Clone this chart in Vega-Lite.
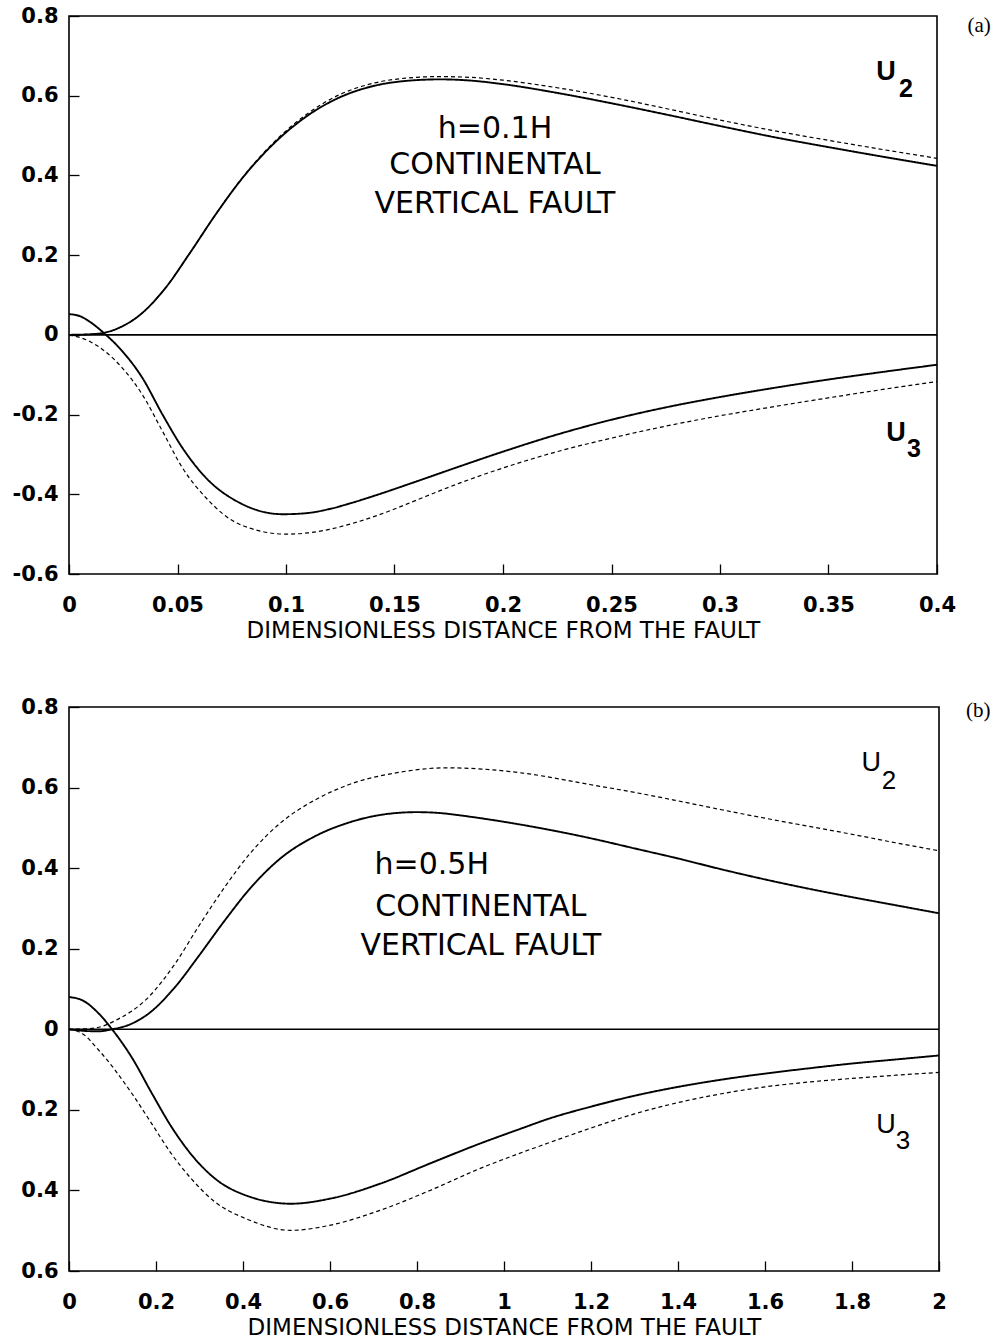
{
  "$schema": "https://vega.github.io/schema/vega-lite/v6.json",
  "background": "white",
  "padding": {"left": 11, "top": 4, "right": 5, "bottom": 0},
  "columns": 1,
  "align": "none",
  "spacing": 52,
  "config": {
    "font": "DejaVu Sans",
    "view": {"stroke": "black", "strokeWidth": 1.6},
    "axis": {
      "domain": false, "grid": false, "tickColor": "black", "tickSize": -10, "tickWidth": 1.3,
      "labelFont": "DejaVu Sans", "labelFontWeight": "bold", "labelFontSize": 21, "labelColor": "black",
      "labelFlush": false, "labelOverlap": false,
      "titleFont": "DejaVu Sans", "titleFontWeight": "normal", "titleFontSize": 23, "titleColor": "black"
    },
    "axisY": {"labelPadding": 21},
    "axisX": {"labelPadding": 30, "titlePadding": 4}
  },
  "datasets": {
    "curvesA": [
      {"s":"U2s","k":"solid","x":0,"y":0},{"s":"U2s","k":"solid","x":0.008,"y":0.001},{"s":"U2s","k":"solid","x":0.016,"y":0.005},{"s":"U2s","k":"solid","x":0.024,"y":0.02},{"s":"U2s","k":"solid","x":0.032,"y":0.047},{"s":"U2s","k":"solid","x":0.0445,"y":0.118},{"s":"U2s","k":"solid","x":0.0553,"y":0.202},{"s":"U2s","k":"solid","x":0.0677,"y":0.303},{"s":"U2s","k":"solid","x":0.08,"y":0.394},{"s":"U2s","k":"solid","x":0.094,"y":0.478},{"s":"U2s","k":"solid","x":0.1094,"y":0.548},{"s":"U2s","k":"solid","x":0.1248,"y":0.596},{"s":"U2s","k":"solid","x":0.14,"y":0.624},{"s":"U2s","k":"solid","x":0.155,"y":0.637},{"s":"U2s","k":"solid","x":0.171,"y":0.641},{"s":"U2s","k":"solid","x":0.185,"y":0.638},{"s":"U2s","k":"solid","x":0.2,"y":0.629},{"s":"U2s","k":"solid","x":0.225,"y":0.607},{"s":"U2s","k":"solid","x":0.25,"y":0.581},{"s":"U2s","k":"solid","x":0.275,"y":0.553},{"s":"U2s","k":"solid","x":0.3,"y":0.524},{"s":"U2s","k":"solid","x":0.325,"y":0.496},{"s":"U2s","k":"solid","x":0.35,"y":0.471},{"s":"U2s","k":"solid","x":0.375,"y":0.447},{"s":"U2s","k":"solid","x":0.4,"y":0.424},
      {"s":"U2d","k":"dashed","x":0,"y":0},{"s":"U2d","k":"dashed","x":0.008,"y":0.001},{"s":"U2d","k":"dashed","x":0.016,"y":0.005},{"s":"U2d","k":"dashed","x":0.024,"y":0.02},{"s":"U2d","k":"dashed","x":0.032,"y":0.047},{"s":"U2d","k":"dashed","x":0.0445,"y":0.118},{"s":"U2d","k":"dashed","x":0.0553,"y":0.202},{"s":"U2d","k":"dashed","x":0.0677,"y":0.303},{"s":"U2d","k":"dashed","x":0.08,"y":0.395},{"s":"U2d","k":"dashed","x":0.094,"y":0.481},{"s":"U2d","k":"dashed","x":0.1094,"y":0.553},{"s":"U2d","k":"dashed","x":0.1248,"y":0.603},{"s":"U2d","k":"dashed","x":0.14,"y":0.631},{"s":"U2d","k":"dashed","x":0.155,"y":0.644},{"s":"U2d","k":"dashed","x":0.171,"y":0.648},{"s":"U2d","k":"dashed","x":0.185,"y":0.646},{"s":"U2d","k":"dashed","x":0.2,"y":0.639},{"s":"U2d","k":"dashed","x":0.225,"y":0.620},{"s":"U2d","k":"dashed","x":0.25,"y":0.596},{"s":"U2d","k":"dashed","x":0.275,"y":0.568},{"s":"U2d","k":"dashed","x":0.3,"y":0.539},{"s":"U2d","k":"dashed","x":0.325,"y":0.512},{"s":"U2d","k":"dashed","x":0.35,"y":0.488},{"s":"U2d","k":"dashed","x":0.375,"y":0.465},{"s":"U2d","k":"dashed","x":0.4,"y":0.443},
      {"s":"U3s","k":"solid","x":0,"y":0.052},{"s":"U3s","k":"solid","x":0.005,"y":0.047},{"s":"U3s","k":"solid","x":0.009,"y":0.035},{"s":"U3s","k":"solid","x":0.016,"y":0.005},{"s":"U3s","k":"solid","x":0.0244,"y":-0.04},{"s":"U3s","k":"solid","x":0.0337,"y":-0.107},{"s":"U3s","k":"solid","x":0.043,"y":-0.199},{"s":"U3s","k":"solid","x":0.0522,"y":-0.283},{"s":"U3s","k":"solid","x":0.063,"y":-0.358},{"s":"U3s","k":"solid","x":0.0785,"y":-0.421},{"s":"U3s","k":"solid","x":0.0986,"y":-0.45},{"s":"U3s","k":"solid","x":0.11,"y":-0.447},{"s":"U3s","k":"solid","x":0.12,"y":-0.437},{"s":"U3s","k":"solid","x":0.13,"y":-0.422},{"s":"U3s","k":"solid","x":0.14,"y":-0.405},{"s":"U3s","k":"solid","x":0.16,"y":-0.368},{"s":"U3s","k":"solid","x":0.18,"y":-0.330},{"s":"U3s","k":"solid","x":0.2,"y":-0.293},{"s":"U3s","k":"solid","x":0.225,"y":-0.250},{"s":"U3s","k":"solid","x":0.25,"y":-0.213},{"s":"U3s","k":"solid","x":0.275,"y":-0.182},{"s":"U3s","k":"solid","x":0.3,"y":-0.156},{"s":"U3s","k":"solid","x":0.325,"y":-0.133},{"s":"U3s","k":"solid","x":0.35,"y":-0.112},{"s":"U3s","k":"solid","x":0.375,"y":-0.093},{"s":"U3s","k":"solid","x":0.4,"y":-0.075},
      {"s":"U3d","k":"dashed","x":0,"y":0},{"s":"U3d","k":"dashed","x":0.009,"y":-0.015},{"s":"U3d","k":"dashed","x":0.0244,"y":-0.082},{"s":"U3d","k":"dashed","x":0.0337,"y":-0.149},{"s":"U3d","k":"dashed","x":0.043,"y":-0.241},{"s":"U3d","k":"dashed","x":0.0522,"y":-0.333},{"s":"U3d","k":"dashed","x":0.063,"y":-0.408},{"s":"U3d","k":"dashed","x":0.0785,"y":-0.475},{"s":"U3d","k":"dashed","x":0.1001,"y":-0.5},{"s":"U3d","k":"dashed","x":0.11,"y":-0.497},{"s":"U3d","k":"dashed","x":0.12,"y":-0.488},{"s":"U3d","k":"dashed","x":0.13,"y":-0.474},{"s":"U3d","k":"dashed","x":0.14,"y":-0.457},{"s":"U3d","k":"dashed","x":0.15,"y":-0.437},{"s":"U3d","k":"dashed","x":0.16,"y":-0.415},{"s":"U3d","k":"dashed","x":0.18,"y":-0.372},{"s":"U3d","k":"dashed","x":0.2,"y":-0.334},{"s":"U3d","k":"dashed","x":0.225,"y":-0.293},{"s":"U3d","k":"dashed","x":0.25,"y":-0.259},{"s":"U3d","k":"dashed","x":0.275,"y":-0.229},{"s":"U3d","k":"dashed","x":0.3,"y":-0.203},{"s":"U3d","k":"dashed","x":0.325,"y":-0.18},{"s":"U3d","k":"dashed","x":0.35,"y":-0.158},{"s":"U3d","k":"dashed","x":0.375,"y":-0.137},{"s":"U3d","k":"dashed","x":0.4,"y":-0.117}
    ],
    "curvesB": [
      {"s":"U2s","k":"solid","x":0,"y":0},{"s":"U2s","k":"solid","x":0.035,"y":-0.004},{"s":"U2s","k":"solid","x":0.0685,"y":-0.005},{"s":"U2s","k":"solid","x":0.099,"y":0},{"s":"U2s","k":"solid","x":0.14,"y":0.012},{"s":"U2s","k":"solid","x":0.183,"y":0.039},{"s":"U2s","k":"solid","x":0.244,"y":0.105},{"s":"U2s","k":"solid","x":0.297,"y":0.18},{"s":"U2s","k":"solid","x":0.358,"y":0.27},{"s":"U2s","k":"solid","x":0.419,"y":0.353},{"s":"U2s","k":"solid","x":0.487,"y":0.425},{"s":"U2s","k":"solid","x":0.5635,"y":0.478},{"s":"U2s","k":"solid","x":0.64,"y":0.512},{"s":"U2s","k":"solid","x":0.70,"y":0.529},{"s":"U2s","k":"solid","x":0.754,"y":0.537},{"s":"U2s","k":"solid","x":0.80,"y":0.539},{"s":"U2s","k":"solid","x":0.85,"y":0.537},{"s":"U2s","k":"solid","x":0.906,"y":0.530},{"s":"U2s","k":"solid","x":1.0,"y":0.515},{"s":"U2s","k":"solid","x":1.1,"y":0.496},{"s":"U2s","k":"solid","x":1.2,"y":0.474},{"s":"U2s","k":"solid","x":1.3,"y":0.449},{"s":"U2s","k":"solid","x":1.4,"y":0.424},{"s":"U2s","k":"solid","x":1.5,"y":0.397},{"s":"U2s","k":"solid","x":1.6,"y":0.372},{"s":"U2s","k":"solid","x":1.7,"y":0.349},{"s":"U2s","k":"solid","x":1.8,"y":0.328},{"s":"U2s","k":"solid","x":1.9,"y":0.308},{"s":"U2s","k":"solid","x":2.0,"y":0.288},
      {"s":"U2d","k":"dashed","x":0,"y":0},{"s":"U2d","k":"dashed","x":0.035,"y":0.001},{"s":"U2d","k":"dashed","x":0.0685,"y":0.005},{"s":"U2d","k":"dashed","x":0.107,"y":0.022},{"s":"U2d","k":"dashed","x":0.183,"y":0.08},{"s":"U2d","k":"dashed","x":0.244,"y":0.163},{"s":"U2d","k":"dashed","x":0.297,"y":0.254},{"s":"U2d","k":"dashed","x":0.358,"y":0.353},{"s":"U2d","k":"dashed","x":0.419,"y":0.440},{"s":"U2d","k":"dashed","x":0.487,"y":0.513},{"s":"U2d","k":"dashed","x":0.5635,"y":0.568},{"s":"U2d","k":"dashed","x":0.64,"y":0.606},{"s":"U2d","k":"dashed","x":0.754,"y":0.637},{"s":"U2d","k":"dashed","x":0.868,"y":0.649},{"s":"U2d","k":"dashed","x":0.95,"y":0.646},{"s":"U2d","k":"dashed","x":1.043,"y":0.636},{"s":"U2d","k":"dashed","x":1.2,"y":0.607},{"s":"U2d","k":"dashed","x":1.3,"y":0.588},{"s":"U2d","k":"dashed","x":1.4,"y":0.567},{"s":"U2d","k":"dashed","x":1.5,"y":0.545},{"s":"U2d","k":"dashed","x":1.6,"y":0.524},{"s":"U2d","k":"dashed","x":1.7,"y":0.504},{"s":"U2d","k":"dashed","x":1.8,"y":0.484},{"s":"U2d","k":"dashed","x":1.9,"y":0.463},{"s":"U2d","k":"dashed","x":2.0,"y":0.443},
      {"s":"U3s","k":"solid","x":0,"y":0.08},{"s":"U3s","k":"solid","x":0.0306,"y":0.072},{"s":"U3s","k":"solid","x":0.0685,"y":0.039},{"s":"U3s","k":"solid","x":0.099,"y":0},{"s":"U3s","k":"solid","x":0.145,"y":-0.071},{"s":"U3s","k":"solid","x":0.19,"y":-0.158},{"s":"U3s","k":"solid","x":0.236,"y":-0.243},{"s":"U3s","k":"solid","x":0.282,"y":-0.312},{"s":"U3s","k":"solid","x":0.335,"y":-0.370},{"s":"U3s","k":"solid","x":0.411,"y":-0.414},{"s":"U3s","k":"solid","x":0.51,"y":-0.433},{"s":"U3s","k":"solid","x":0.602,"y":-0.42},{"s":"U3s","k":"solid","x":0.716,"y":-0.383},{"s":"U3s","k":"solid","x":0.83,"y":-0.333},{"s":"U3s","k":"solid","x":0.944,"y":-0.284},{"s":"U3s","k":"solid","x":1.043,"y":-0.245},{"s":"U3s","k":"solid","x":1.1,"y":-0.223},{"s":"U3s","k":"solid","x":1.2,"y":-0.192},{"s":"U3s","k":"solid","x":1.3,"y":-0.165},{"s":"U3s","k":"solid","x":1.4,"y":-0.143},{"s":"U3s","k":"solid","x":1.5,"y":-0.125},{"s":"U3s","k":"solid","x":1.6,"y":-0.110},{"s":"U3s","k":"solid","x":1.7,"y":-0.097},{"s":"U3s","k":"solid","x":1.8,"y":-0.085},{"s":"U3s","k":"solid","x":1.9,"y":-0.075},{"s":"U3s","k":"solid","x":2.0,"y":-0.065},
      {"s":"U3d","k":"dashed","x":0,"y":0},{"s":"U3d","k":"dashed","x":0.031,"y":-0.011},{"s":"U3d","k":"dashed","x":0.0685,"y":-0.052},{"s":"U3d","k":"dashed","x":0.145,"y":-0.16},{"s":"U3d","k":"dashed","x":0.19,"y":-0.234},{"s":"U3d","k":"dashed","x":0.236,"y":-0.31},{"s":"U3d","k":"dashed","x":0.282,"y":-0.372},{"s":"U3d","k":"dashed","x":0.335,"y":-0.428},{"s":"U3d","k":"dashed","x":0.411,"y":-0.472},{"s":"U3d","k":"dashed","x":0.51,"y":-0.499},{"s":"U3d","k":"dashed","x":0.602,"y":-0.486},{"s":"U3d","k":"dashed","x":0.716,"y":-0.449},{"s":"U3d","k":"dashed","x":0.83,"y":-0.4},{"s":"U3d","k":"dashed","x":0.944,"y":-0.346},{"s":"U3d","k":"dashed","x":1.043,"y":-0.305},{"s":"U3d","k":"dashed","x":1.1,"y":-0.283},{"s":"U3d","k":"dashed","x":1.2,"y":-0.245},{"s":"U3d","k":"dashed","x":1.3,"y":-0.210},{"s":"U3d","k":"dashed","x":1.4,"y":-0.182},{"s":"U3d","k":"dashed","x":1.5,"y":-0.160},{"s":"U3d","k":"dashed","x":1.6,"y":-0.143},{"s":"U3d","k":"dashed","x":1.7,"y":-0.131},{"s":"U3d","k":"dashed","x":1.8,"y":-0.122},{"s":"U3d","k":"dashed","x":1.9,"y":-0.114},{"s":"U3d","k":"dashed","x":2.0,"y":-0.107}
    ]
  },
  "concat": [
    {
      "width": 868,
      "height": 558,
      "encoding": {
        "x": {"field": "x", "type": "quantitative", "scale": {"domain": [0, 0.4], "nice": false, "zero": false},
              "axis": {"values": [0, 0.05, 0.1, 0.15, 0.2, 0.25, 0.3, 0.35, 0.4], "format": "~g", "title": "DIMENSIONLESS DISTANCE FROM THE FAULT"}},
        "y": {"field": "y", "type": "quantitative", "scale": {"domain": [-0.6, 0.8], "nice": false, "zero": false},
              "axis": {"values": [-0.6, -0.4, -0.2, 0, 0.2, 0.4, 0.6, 0.8], "labelExpr": "replace(format(datum.value, '~g'), '\u2212', '-')", "title": null}}
      },
      "layer": [
        {"data": {"values": [{"x": 0, "y": 0}, {"x": 0.4, "y": 0}]}, "mark": {"type": "line", "color": "black", "strokeWidth": 1.6}},
        {"data": {"name": "curvesA"},
         "mark": {"type": "line", "color": "black", "interpolate": "monotone"},
         "encoding": {
           "detail": {"field": "s"},
           "strokeDash": {"field": "k", "type": "nominal", "scale": {"domain": ["solid", "dashed"], "range": [[1, 0], [4, 3]]}, "legend": null},
           "strokeWidth": {"field": "k", "type": "nominal", "scale": {"domain": ["solid", "dashed"], "range": [1.9, 1.2]}, "legend": null}
         }},
        {"data": {"values": [{"x": 0.1963, "y": 0.517, "t": "h=0.1H"}, {"x": 0.1963, "y": 0.426, "t": "CONTINENTAL"}, {"x": 0.1963, "y": 0.328, "t": "VERTICAL FAULT"}]},
         "mark": {"type": "text", "font": "DejaVu Sans", "fontSize": 30, "color": "black", "align": "center", "baseline": "middle"},
         "encoding": {"text": {"field": "t"}}},
        {"data": {"values": [{"x": 0.3765, "y": 0.659, "t": "U"}, {"x": 0.3811, "y": -0.246, "t": "U"}]},
         "mark": {"type": "text", "font": "Liberation Sans", "fontWeight": "bold", "fontSize": 27, "color": "black", "align": "center", "baseline": "middle"},
         "encoding": {"text": {"field": "t"}}},
        {"data": {"values": [{"x": 0.3857, "y": 0.617, "t": "2"}, {"x": 0.3894, "y": -0.286, "t": "3"}]},
         "mark": {"type": "text", "font": "Liberation Sans", "fontWeight": "bold", "fontSize": 25, "color": "black", "align": "center", "baseline": "middle"},
         "encoding": {"text": {"field": "t"}}},
        {"data": {"values": [{"x": 0.4194, "y": 0.775, "t": "(a)"}]},
         "mark": {"type": "text", "font": "Liberation Serif", "fontSize": 21, "color": "black", "align": "center", "baseline": "middle"},
         "encoding": {"text": {"field": "t"}}}
      ]
    },
    {
      "width": 870,
      "height": 564,
      "encoding": {
        "x": {"field": "x", "type": "quantitative", "scale": {"domain": [0, 2], "nice": false, "zero": false},
              "axis": {"values": [0, 0.2, 0.4, 0.6, 0.8, 1, 1.2, 1.4, 1.6, 1.8, 2], "format": "~g", "title": "DIMENSIONLESS DISTANCE FROM THE FAULT"}},
        "y": {"field": "y", "type": "quantitative", "scale": {"domain": [-0.6, 0.8], "nice": false, "zero": false},
              "axis": {"values": [-0.6, -0.4, -0.2, 0, 0.2, 0.4, 0.6, 0.8], "labelExpr": "format(abs(datum.value), '~g')", "title": null}}
      },
      "layer": [
        {"data": {"values": [{"x": 0, "y": 0}, {"x": 2, "y": 0}]}, "mark": {"type": "line", "color": "black", "strokeWidth": 1.6}},
        {"data": {"name": "curvesB"},
         "mark": {"type": "line", "color": "black", "interpolate": "monotone"},
         "encoding": {
           "detail": {"field": "s"},
           "strokeDash": {"field": "k", "type": "nominal", "scale": {"domain": ["solid", "dashed"], "range": [[1, 0], [4, 3]]}, "legend": null},
           "strokeWidth": {"field": "k", "type": "nominal", "scale": {"domain": ["solid", "dashed"], "range": [1.9, 1.2]}, "legend": null}
         }},
        {"data": {"values": [{"x": 0.834, "y": 0.407, "t": "h=0.5H"}, {"x": 0.947, "y": 0.303, "t": "CONTINENTAL"}, {"x": 0.947, "y": 0.206, "t": "VERTICAL FAULT"}]},
         "mark": {"type": "text", "font": "DejaVu Sans", "fontSize": 30, "color": "black", "align": "center", "baseline": "middle"},
         "encoding": {"text": {"field": "t"}}},
        {"data": {"values": [{"x": 1.844, "y": 0.66, "t": "U"}, {"x": 1.878, "y": -0.238, "t": "U"}]},
         "mark": {"type": "text", "font": "Liberation Sans", "fontSize": 27, "color": "black", "align": "center", "baseline": "middle"},
         "encoding": {"text": {"field": "t"}}},
        {"data": {"values": [{"x": 1.885, "y": 0.616, "t": "2"}, {"x": 1.917, "y": -0.2775, "t": "3"}]},
         "mark": {"type": "text", "font": "Liberation Sans", "fontSize": 26, "color": "black", "align": "center", "baseline": "middle"},
         "encoding": {"text": {"field": "t"}}},
        {"data": {"values": [{"x": 2.09, "y": 0.789, "t": "(b)"}]},
         "mark": {"type": "text", "font": "Liberation Serif", "fontSize": 21, "color": "black", "align": "center", "baseline": "middle"},
         "encoding": {"text": {"field": "t"}}}
      ]
    }
  ]
}
